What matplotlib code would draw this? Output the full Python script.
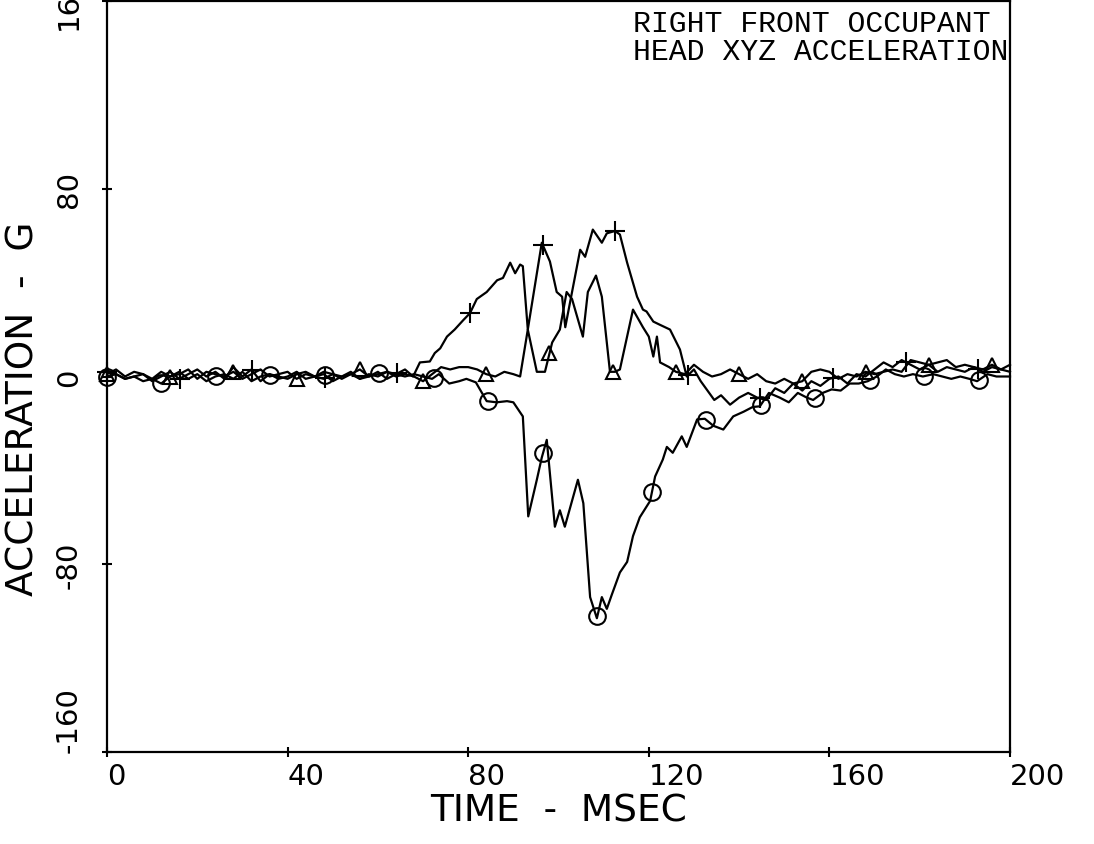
"""
Right front occupant head XYZ acceleration vs time (crash test trace).
"""

import matplotlib
matplotlib.use("Agg")
import matplotlib.pyplot as plt
import numpy as np


# ──────────────────────────────────────────────────────────────────────────────
# Data (G vs msec)
# ──────────────────────────────────────────────────────────────────────────────

t_base = list(range(0, 68, 2))

# "+" trace
t_plus = t_base + [
    67.8, 69.3, 71.5, 72.6, 73.8, 75.3, 77, 78.9, 80.4, 81.9,
    84.1, 86.4, 87.7, 89.3, 90.4, 91.5, 92.1, 93.2, 96.3, 98.1,
    99.6, 100.8, 101.5, 103, 104.8, 105.9, 107.6, 109.6, 110.7, 112.5,
    113.6, 115.2, 117.4, 118.7, 119.5, 121, 122.5, 124.7, 126.9, 128.4,
    130, 131.5, 133, 134.5, 136, 138, 140, 142, 144, 146,
    148, 150, 152, 154, 156, 158, 160, 162, 164, 166,
    168, 170, 172, 174, 176, 178, 180, 182, 184, 186,
    188, 190, 192, 194, 196, 198, 200,
]
g_plus = [
    2, 1, -1, 0, 1, -2, 0, 2, -1, 1, 3, 0, 2, -1, 4, 0, 3,
    -2, 1, 0, -1, 1, 2, 0, -1, 1, 0, 2, -1, 1, 0, 2, 1, 3,
    0, 6, 6.4, 10, 12, 17, 20, 24, 27, 33,
    36, 41, 42, 48.5, 44, 47.7, 47, 20, 57, 49,
    36, 34, 21, 36, 54, 51, 62.6, 57, 61, 62,
    60.5, 48.5, 34, 28.5, 27.7, 23.4, 22, 20, 11.5, 0,
    3, -2, -6, -10, -8, -12, -9, -7, -9, -10,
    -5, -7, -3, -6, -2, -4, -1, 0, -3, 1,
    0, 3, 6, 4, 7, 5, 3, 5, 2, 4,
    3, 2, 4, 2, 4, 3, 2,
]

# triangle trace
t_tri = t_base + [
    68, 70, 72, 74, 76, 78, 80, 82, 84, 86,
    88, 90, 91.5, 93.2, 95.2, 97, 98.6, 100.3, 101.8, 103,
    105.4, 106.5, 108.3, 109.6, 111.4, 112.5, 113.6, 116.5, 118.7, 120,
    121, 121.8, 122.5, 124.5, 126, 128,
] + list(range(130, 201, 2))
g_tri = [
    1, 3, 0, 2, 1, -1, 2, 0, 1, 3, -1, 2, 1, 0, 2, -1, 1,
    3, 0, 1, 2, -1, 1, 0, 2, 1, -1, 1, 3, 0, 1, 2, 0, 1,
    0, -2, 1, 4, 3, 4, 4, 3, 1, 0,
    2, 1, 0, 20, 2, 2, 14.5, 20, 36, 33,
    17, 36, 43, 34, 2, 2, 3, 28.5, 21, 17,
    8.5, 17, 6, 4, 2, 1,
    5, 2, 0, 1, 3, 1, -1, 1, -2, -3,
    -1, -3, -2, 2, 3, 2, -1, 1, 0, 2,
    1, 2, 3, 2, 7, 6, 5, 6, 7, 4,
    5, 4, 3, 5, 3, 5,
]

# circle trace
t_circ = t_base + [
    68, 70, 72, 73.5, 75.8, 78, 79.6, 81.7, 84.1, 86.3,
    88.6, 90, 92.1, 93.3, 95.2, 96.3, 97.4, 99.2, 100.3, 101.4,
    104.3, 105.5, 107, 108.5, 109.6, 110.7, 111.8, 113.6, 115.2, 116.5,
    118, 120.3, 121.4, 123.1, 124, 125.3, 127.3, 128.4, 130.7, 132.4,
    134.3, 136.5, 138.7, 141, 143, 144.6, 146.6, 149, 151, 153,
    155, 156.4, 158.5, 160.5, 162.5, 164.5, 166.5, 168.5, 170.5, 172.5,
    174.5, 176.5, 178.5, 180.7, 183, 185, 187, 189, 191, 192.7,
    195, 197, 200,
]
g_circ = [
    0, 1, -1, 0, -2, -1, -3, 0, 2, -1, 1, -2, 0, 1, -1, 2, -2,
    0, 1, -1, 0, 2, -1, 0, 1, -2, 0, 1, -1, 0, 2, -1, 1, 0,
    1, 0, -1, 1, -3, -2, -1, -2.5, -10.5, -11,
    -10.5, -11, -17, -59.6, -44, -34.5, -27, -64, -57, -64,
    -44, -54, -94, -103, -94, -99, -93, -83.5, -79, -68,
    -60, -53, -42.6, -35.4, -30, -32.5, -25.5, -30, -18.3, -18,
    -21, -22.6, -17, -15, -13, -12.7, -7, -9, -11, -7,
    -9, -10, -7, -5.5, -6, -3, -3, -2, 0, 3,
    1, 0, 1, 0, 1, 0, -1, 0, -1, -2,
    1, 0, 0,
]

x_ticks = [0, 40, 80, 120, 160, 200]
y_ticks = [-160, -80, 0, 80, 160]

# symbol spacing along each trace (msec)
traces = [
    (t_plus, g_plus, "+", 16.08, 15),
    (t_tri, g_tri, "^", 14.0, 10),
    (t_circ, g_circ, "o", 12.07, 12),
]


# ──────────────────────────────────────────────────────────────────────────────
# Plot
# ──────────────────────────────────────────────────────────────────────────────

fig = plt.figure(figsize=(10.94, 8.45), dpi=100)
ax = fig.add_axes([107 / 1094, 1 - 753 / 845, 903 / 1094, 751 / 845])

for t, g, mk, step, ms in traces:
    ax.plot(t, g, color="black", lw=1.6, clip_on=False)
    tm = np.arange(0, 200.01, step)
    gm = np.interp(tm, t, g)
    ax.plot(tm, gm, ls="none", marker=mk, ms=ms, mfc="none", mec="black",
            mew=1.5, clip_on=False)

ax.set_xlim(0, 200)
ax.set_ylim(-160, 160)
ax.set_xticks(x_ticks)
ax.set_yticks(y_ticks)
ax.set_xticklabels([str(v) for v in x_ticks], fontsize=21, ha="left")
ax.set_yticklabels([str(v) for v in y_ticks], fontsize=21, rotation=90,
                   va="center")
ax.get_yticklabels()[0].set_verticalalignment("bottom")
ax.tick_params(direction="inout", length=7, width=1.5)
ax.tick_params(axis="x", pad=4)
ax.tick_params(axis="y", pad=14)
for s in ax.spines.values():
    s.set_linewidth(1.6)

ax.set_xlabel("TIME  -  MSEC", fontsize=27, va="center")
ax.xaxis.set_label_coords(0.5, -0.078)
ax.set_ylabel("ACCELERATION  -  G", fontsize=27, va="center")
ax.yaxis.set_label_coords(-0.092, 0.458)

ax.text(0.998, 0.99, "RIGHT FRONT OCCUPANT\nHEAD XYZ ACCELERATION",
        transform=ax.transAxes, ha="right", va="top", ma="left",
        family="Liberation Mono", fontsize=21.5, linespacing=1.0)

fig.savefig("out.png", dpi=100)
